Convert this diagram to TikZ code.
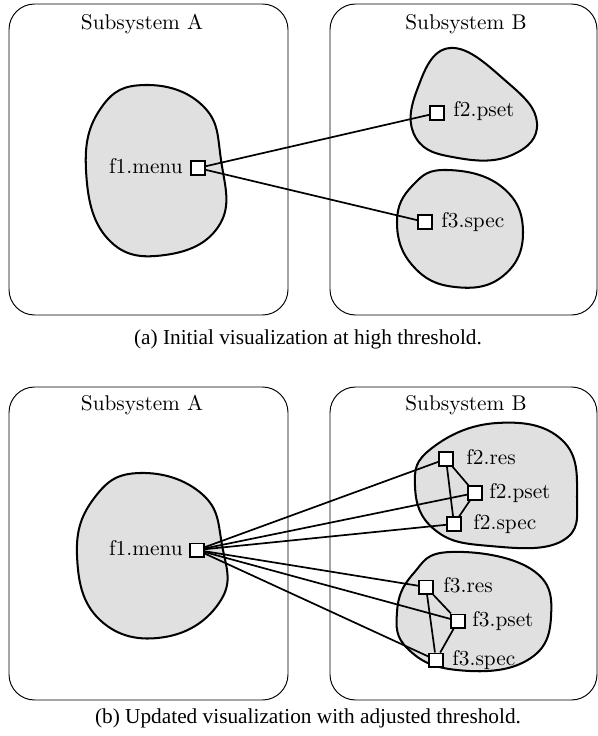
\documentclass[tikz,border=0pt]{standalone}
\usepackage{fontspec}
\newfontfamily\capfont{Liberation Serif}
\begin{document}
\begin{tikzpicture}[x=0.4695pt,y=-0.4695pt,
  subsys/.style={draw, line width=0.45pt, rounded corners=12pt},
  blob/.style={draw, line width=0.95pt, fill=black!12},
  port/.style={draw, line width=0.85pt, fill=white, minimum size=6.2pt, inner sep=0pt},
  plabel/.style={anchor=west, inner sep=0pt, text height=1.5ex, text depth=.25ex},
  link/.style={line width=0.8pt},
  title/.style={inner sep=0pt},
  caption/.style={inner sep=0pt, font=\capfont}]
\useasboundingbox (0,0) rectangle (598,736);

% ---------- (a) ----------
\draw[subsys] (9,4) rectangle (288,315);
\draw[subsys] (330,4) rectangle (597,315);
\node[title] (ta1) at (142,24) {Subsystem A};
\node[title] (tb1) at (466,24) {Subsystem B};

\draw[blob] plot[smooth cycle, tension=0.75] coordinates {
  (145,85) (203,106) (221,160) (220,224) (165,255) (108,239) (86,170) (101,108)};
\draw[blob] plot[smooth cycle, tension=0.75] coordinates {
  (450,48) (507,82) (537,123) (512,155) (458,158) (416,138) (417,90)};
\draw[blob] plot[smooth cycle, tension=0.75] coordinates {
  (447,170) (502,187) (523,232) (503,276) (455,287) (413,266) (397,222) (413,185)};

\node[port] (a1) at (198,168) {};
\node[anchor=east, inner sep=0pt, text height=1.5ex, text depth=.25ex] (a1L) at (183,168) {f1.menu};
\node[port] (a2) at (437,113) {};
\node[plabel] (a2L) at (453,111) {f2.pset};
\node[port] (a3) at (425,222) {};
\node[plabel] (a3L) at (441,222) {f3.spec};

\draw[link] (a1) -- (a2);
\draw[link] (a1) -- (a3);

\node[caption] (capa) at (308,339) {(a) Initial visualization at high threshold.};

% ---------- (b) ----------
\draw[subsys] (9,387) rectangle (288,700);
\draw[subsys] (330,387) rectangle (597,700);
\node[title] (ta2) at (142,405) {Subsystem A};
\node[title] (tb2) at (466,405) {Subsystem B};

\draw[blob] plot[smooth cycle, tension=0.75] coordinates {
  (140,473) (202,494) (222,545) (221,600) (165,637) (100,620) (77,555) (95,497)};
\draw[blob] plot[smooth cycle, tension=0.75] coordinates {
  (497,423) (562,440) (577,497) (562,541) (490,546) (435,530) (415,486) (432,448)};
\draw[blob] plot[smooth cycle, tension=0.75] coordinates {
  (450,552) (531,569) (551,617) (526,661) (457,670) (408,649) (397,612) (413,574)};

\node[port] (b1) at (197,550) {};
\node[anchor=east, inner sep=0pt, text height=1.5ex, text depth=.25ex] (b1L) at (183,550) {f1.menu};

\node[port] (r2) at (446,459) {};
\node[plabel] (r2L) at (466,459) {f2.res};
\node[port] (p2) at (475,493) {};
\node[plabel] (p2L) at (489,493) {f2.pset};
\node[port] (s2) at (454,524) {};
\node[plabel] (s2L) at (473,524) {f2.spec};

\node[port] (r3) at (426,587) {};
\node[plabel] (r3L) at (443,587) {f3.res};
\node[port] (p3) at (458,621) {};
\node[plabel] (p3L) at (472,621) {f3.pset};
\node[port] (s3) at (436,660) {};
\node[plabel] (s3L) at (452,660) {f3.spec};

\foreach \t in {r2,p2,s2,r3,p3,s3} \draw[link] (b1) -- (\t);
\draw[link] (r2) -- (p2) -- (s2) -- (r2);
\draw[link] (r3) -- (p3) -- (s3) -- (r3);

\node[caption] (capb) at (308,718) {(b) Updated visualization with adjusted threshold.};
\end{tikzpicture}
\end{document}
